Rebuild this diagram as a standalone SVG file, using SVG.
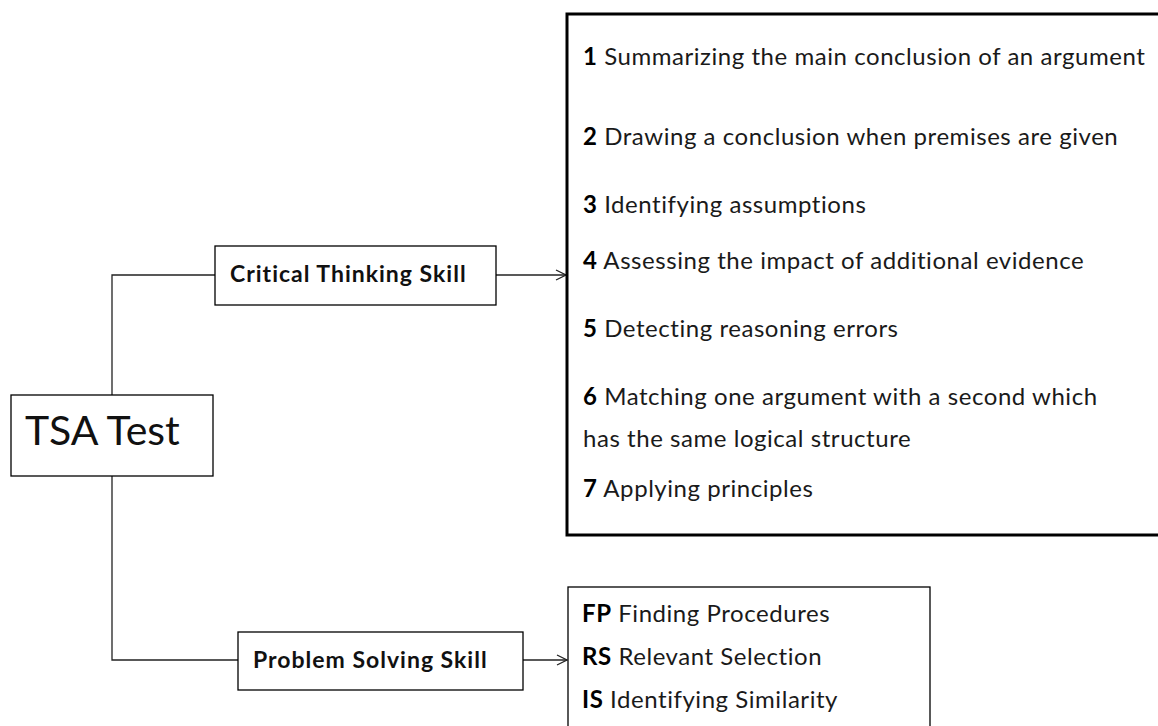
<svg xmlns="http://www.w3.org/2000/svg" width="1158" height="726" viewBox="0 0 1158 726">
  <style>
    .box { fill: #fff; stroke: #000; stroke-width: 1.3; }
    .big { fill: #fff; stroke: #000; stroke-width: 3; }
    .link { fill: none; stroke: #222; stroke-width: 1.3; }
    text { font-family: Lato, "Noto Sans", sans-serif; fill: #111; }
    .head { font-weight: bold; font-size: 23px; letter-spacing: 1px; }
    .item { font-size: 24px; letter-spacing: 0.55px; fill: #1a1a1a; }
    .item tspan.n { font-weight: bold; fill: #000; }
  </style>
  <defs>
    <marker id="open" viewBox="0 0 12 12" refX="11" refY="6" markerWidth="12" markerHeight="12" markerUnits="userSpaceOnUse" orient="auto">
      <path d="M1 1 L11 6 L1 11" fill="none" stroke="#222" stroke-width="1.3"/>
    </marker>
  </defs>

  <g id="connectors">
    <path class="link" d="M112 395 V275 H215"/>
    <path class="link" d="M112 476 V660 H238"/>
    <path class="link" d="M496 275 H566" marker-end="url(#open)"/>
    <path class="link" d="M523 660 H567" marker-end="url(#open)"/>
  </g>

  <g id="tsa">
    <rect class="box" x="11" y="395" width="202" height="81"/>
    <text x="25" y="445" font-size="41">TSA Test</text>
  </g>

  <g id="critical">
    <rect class="box" x="215" y="246" width="281" height="59"/>
    <text class="head" x="230" y="282">Critical Thinking Skill</text>
  </g>

  <g id="problem">
    <rect class="box" x="238" y="632" width="285" height="58"/>
    <text class="head" x="253" y="668">Problem Solving Skill</text>
  </g>

  <g id="critical-items">
    <rect class="big" x="567" y="14" width="600" height="521"/>
    <text class="item" x="583" y="65"><tspan class="n">1</tspan> Summarizing the main conclusion of an argument</text>
    <text class="item" x="583" y="145"><tspan class="n">2</tspan> Drawing a conclusion when premises are given</text>
    <text class="item" x="583" y="213"><tspan class="n">3</tspan> Identifying assumptions</text>
    <text class="item" x="583" y="269"><tspan class="n">4</tspan> Assessing the impact of additional evidence</text>
    <text class="item" x="583" y="337"><tspan class="n">5</tspan> Detecting reasoning errors</text>
    <text class="item" x="583" y="405"><tspan class="n">6</tspan> Matching one argument with a second which</text>
    <text class="item" x="583" y="447">has the same logical structure</text>
    <text class="item" x="583" y="497"><tspan class="n">7</tspan> Applying principles</text>
  </g>

  <g id="problem-items">
    <rect class="box" x="568" y="587" width="362" height="150"/>
    <text class="item" x="582" y="622"><tspan class="n">FP</tspan> Finding Procedures</text>
    <text class="item" x="582" y="665"><tspan class="n">RS</tspan> Relevant Selection</text>
    <text class="item" x="582" y="708"><tspan class="n">IS</tspan> Identifying Similarity</text>
  </g>
</svg>
